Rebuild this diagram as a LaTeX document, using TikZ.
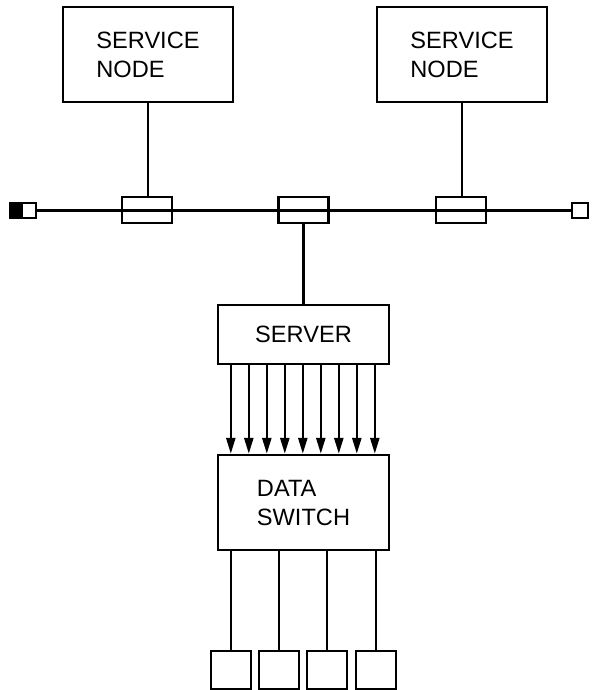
\documentclass[tikz,border=0pt]{standalone}
\usepackage{fontspec}
\setmainfont{Liberation Sans}
\usetikzlibrary{arrows.meta}

\begin{document}
\begin{tikzpicture}[x=0.5pt,y=-0.5pt]
%% Styles
\tikzset{
  unit/.style={draw,line width=1.2pt,rectangle,inner sep=0pt,align=left,
    font=\fontsize{11.8}{14.5}\selectfont},
  tapbox/.style={draw,line width=1.2pt,minimum width=25pt,minimum height=13pt,inner sep=0pt},
  endbox/.style={draw,line width=1.2pt,minimum height=7.5pt,inner sep=0pt},
  wire/.style={line width=1.2pt},
  feed/.style={line width=1.2pt,-{Triangle[length=8pt,width=4.5pt]}},
}
\useasboundingbox (0,0) rectangle (591,690);

%% Service nodes
\node[unit,minimum width=85pt,minimum height=47.5pt] (svcL) at (148,54.5) {SERVICE\\NODE};
\node[unit,minimum width=85pt,minimum height=47.5pt] (svcR) at (462,54.5) {SERVICE\\NODE};

%% Bus with terminators and taps
\node[endbox,minimum width=13pt,
  path picture={\path[fill=black] (path picture bounding box.south west)
    rectangle (path picture bounding box.north);}] (endL) at (23,210.5) {};
\node[endbox,minimum width=8pt] (endR) at (580,210.5) {};
\path[draw,wire] (endL.east) -- (endR.west);
\node[tapbox] (tapL) at (147,210) {};
\node[tapbox] (tapM) at (303.5,210) {};
\node[tapbox] (tapR) at (461,210) {};
\path[draw,wire] (svcL.south) -- (svcL.south |- tapL.north);
\path[draw,wire] (svcR.south) -- (svcR.south |- tapR.north);

%% Server and data switch
\node[unit,minimum width=85.5pt,minimum height=29.5pt] (server) at (303.5,334.5) {SERVER};
\node[unit,minimum width=85.5pt,minimum height=47.5pt] (switch) at (303.5,502.5) {DATA\\SWITCH};
\path[draw,wire] (tapM.south) -- (server.north);

% Channels
\foreach \i in {0,...,8}{
  \path (server.south west) ++(14+18*\i,0) coordinate (ch\i);
  \path[draw,feed] (ch\i) -- (ch\i |- switch.north);
}

% Terminals
\foreach \i/\x in {1/231,2/279,3/327,4/376}{
  \node[unit,minimum width=20pt,minimum height=19pt] (term\i) at (\x,670) {};
  \path[draw,wire] (term\i.north |- switch.south) -- (term\i.north);
}

\end{tikzpicture}
\end{document}
